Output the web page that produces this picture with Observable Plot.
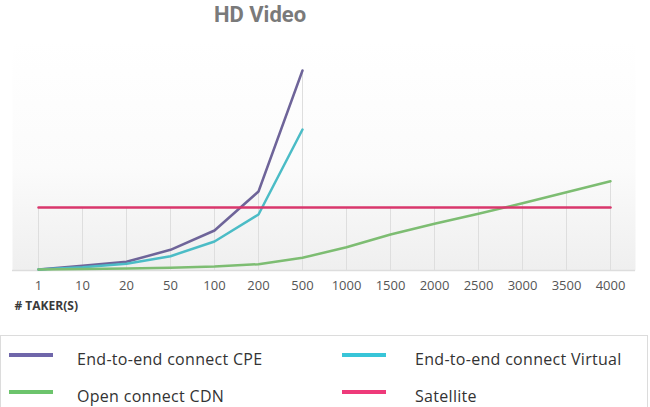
<!DOCTYPE html>
<html>
<head>
<meta charset="utf-8">
<script src="https://cdn.jsdelivr.net/npm/d3@7"></script>
<script src="https://cdn.jsdelivr.net/npm/@observablehq/plot@0.6"></script>
<style>
  html, body { margin: 0; padding: 0; background: #fff; width: 650px; height: 407px; overflow: hidden; }
  #wrap { position: relative; width: 650px; height: 407px; font-family: "Open Sans", sans-serif; }
  #title { position: absolute; top: 2px; left: 160px; width: 200px; text-align: center; font-family: Roboto, sans-serif; font-weight: bold; font-size: 22px; color: #7a7a7a; }
  #chart { position: absolute; left: 0; top: 40px; }
  #legend { position: absolute; left: 0; top: 335px; width: 646px; height: 90px; border: 1px solid #dcdcdc; }
  .item { position: absolute; font-size: 16px; letter-spacing: 0.3px; color: #333; }
  .sw { position: absolute; width: 44px; height: 4px; }
</style>
</head>
<body>
<div id="wrap">
  <div id="title">HD Video</div>
  <div id="chart"></div>
  <div id="legend"></div>
</div>
<script>
const takers = ["1","10","20","50","100","200","500","1000","1500","2000","2500","3000","3500","4000"];
const cpe = [1, 4.7, 8.7, 20.7, 40, 79, 200];
const virtualV = [1, 3.3, 6.7, 14.3, 29, 56, 141];
const cdn = [1, 1.5, 2, 2.7, 4, 6.3, 12.7, 23.3, 36, 46.7, 56.7, 67.3, 78.3, 89.3];
const satellite = [63, 63, 63, 63, 63, 63, 63, 63, 63, 63, 63, 63, 63, 63];
const seriesNames = ["End-to-end connect CPE", "End-to-end connect Virtual", "Open connect CDN", "Satellite"];
const lineColors = ["#6e6499", "#4bbcc6", "#7dbd72", "#d9376c"];
const legendColors = ["#6f66aa", "#38c5d8", "#6cc46c", "#ee3a7a"];

const rows = [];
[cpe, virtualV, cdn, satellite].forEach((arr, si) => {
  arr.forEach((v, i) => rows.push({series: seriesNames[si], x: takers[i], y: v}));
});
const drops = takers.map((t, i) => ({x: t, top: d3.max([cpe[i], virtualV[i], cdn[i], satellite[i]].filter(v => v != null))}));

const chart = Plot.plot({
  width: 650,
  height: 275,
  marginLeft: 12,
  marginRight: 15,
  marginTop: 0,
  marginBottom: 45,
  style: {fontFamily: "Open Sans, sans-serif", fontSize: "13px", color: "#555", background: "transparent"},
  x: {type: "point", domain: takers, padding: 0.5, label: null, tickSize: 0, tickPadding: 10},
  y: {domain: [0, 230], axis: null},
  color: {domain: seriesNames, range: lineColors},
  marks: [
    Plot.frame({fill: "url(#bggrad)", stroke: "none"}),
    Plot.ruleX(drops, {x: "x", y1: 0, y2: "top", stroke: "#dedede", strokeWidth: 1}),
    Plot.ruleY([0], {stroke: "#dddddd", strokeWidth: 1.5}),
    Plot.line(rows, {x: "x", y: "y", z: "series", stroke: "series", strokeWidth: 2.5}),
    Plot.text(["# TAKER(S)"], {frameAnchor: "bottom-left", dx: 2, dy: 39, textAnchor: "start", fontWeight: "bold", fontSize: 12, fill: "#3a3a3a"})
  ]
});
const ns = "http://www.w3.org/2000/svg";
const defs = document.createElementNS(ns, "defs");
defs.innerHTML = '<linearGradient id="bggrad" x1="0" y1="0" x2="0" y2="1"><stop offset="0" stop-color="#ffffff"/><stop offset="0.55" stop-color="#fbfbfb"/><stop offset="1" stop-color="#efefef"/></linearGradient>';
chart.insertBefore(defs, chart.firstChild);
document.getElementById("chart").appendChild(chart);

const legend = document.getElementById("legend");
const pos = [[8, 17, 76], [341, 17, 414], [8, 54, 76], [341, 54, 414]];
const order = [0, 1, 2, 3];
order.forEach((si, k) => {
  const [sx, sy, tx] = pos[k];
  const sw = document.createElement("div");
  sw.className = "sw";
  sw.style.left = sx + "px"; sw.style.top = sy + "px"; sw.style.background = legendColors[si];
  legend.appendChild(sw);
  const t = document.createElement("div");
  t.className = "item";
  t.style.left = tx + "px"; t.style.top = (sy - 5) + "px";
  t.textContent = seriesNames[si];
  legend.appendChild(t);
});
</script>
</body>
</html>
